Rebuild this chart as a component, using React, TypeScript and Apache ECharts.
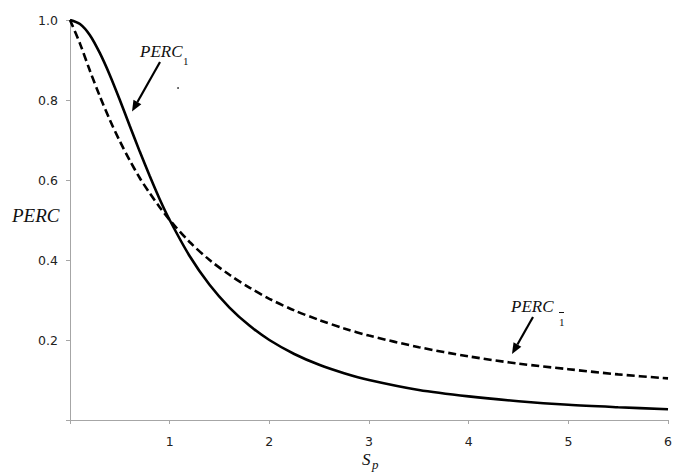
import React, { useEffect, useRef } from "react";
import * as echarts from "echarts";

// S_p values (x axis)
const sp = [0, 0.1, 0.2, 0.3, 0.4, 0.5, 0.6, 0.7, 0.8, 0.9, 1.0, 1.2, 1.4, 1.6, 1.8, 2.0, 2.25, 2.5, 2.75, 3.0, 3.5, 4.0, 4.5, 5.0, 5.5, 6.0];
// PERC_1 (solid curve)
const perc1 = [1.0, 0.99, 0.962, 0.917, 0.862, 0.8, 0.735, 0.671, 0.61, 0.552, 0.5, 0.41, 0.338, 0.281, 0.236, 0.2, 0.165, 0.138, 0.117, 0.1, 0.075, 0.059, 0.047, 0.038, 0.032, 0.027];
// PERC_1bar (dashed curve)
const perc1bar = [1.0, 0.941, 0.873, 0.809, 0.75, 0.697, 0.649, 0.605, 0.567, 0.532, 0.5, 0.445, 0.4, 0.363, 0.331, 0.303, 0.274, 0.25, 0.229, 0.211, 0.182, 0.159, 0.141, 0.127, 0.114, 0.104];

const xTicks = [0, 1, 2, 3, 4, 5, 6];
const yTicks = [0, 0.2, 0.4, 0.6, 0.8, 1.0];

const SERIF = '"Liberation Serif", "Times New Roman", serif';
const SANS = '"DejaVu Sans", sans-serif';

function arrow(x1: number, y1: number, x2: number, y2: number) {
  const ang = Math.atan2(y2 - y1, x2 - x1);
  const L = 11, W = 4.5;
  const bx = x2 - L * Math.cos(ang), by = y2 - L * Math.sin(ang);
  const px = -Math.sin(ang) * W, py = Math.cos(ang) * W;
  return [
    { type: "line", shape: { x1, y1, x2: bx, y2: by }, style: { stroke: "#000", lineWidth: 2.2 } },
    { type: "polygon", shape: { points: [[x2, y2], [bx + px, by + py], [bx - px, by - py]] }, style: { fill: "#000" } },
  ];
}

export default function App() {
  const ref = useRef<HTMLDivElement>(null);
  useEffect(() => {
    if (!ref.current) return;
    const chart = echarts.init(ref.current, null, { renderer: "svg" });
    const txt = (text: string, x: number, y: number, size: number, italic = true, extra: any = {}) => ({
      type: "text",
      style: {
        text,
        x,
        y,
        fill: "#111",
        font: `${italic ? "italic " : ""}${size}px ${SERIF}`,
        textAlign: "left",
        textVerticalAlign: "middle",
        ...extra,
      },
    });
    chart.setOption({
      animation: false,
      backgroundColor: "#ffffff",
      grid: { left: 70, right: 4, top: 20, bottom: 52, containLabel: false },
      xAxis: {
        type: "value",
        min: xTicks[0],
        max: xTicks[xTicks.length - 1],
        interval: 1,
        axisLine: { show: true, lineStyle: { color: "#a6a6a6", width: 1 } },
        axisTick: { show: true, length: 4, lineStyle: { color: "#a6a6a6" } },
        axisLabel: {
          margin: 15,
          color: "#222",
          fontSize: 12.5,
          fontFamily: SANS,
          formatter: (v: number) => (v === 0 ? "" : String(v)),
        },
        splitLine: { show: false },
      },
      yAxis: {
        type: "value",
        min: yTicks[0],
        max: yTicks[yTicks.length - 1],
        interval: 0.2,
        axisLine: { show: true, lineStyle: { color: "#a6a6a6", width: 1 } },
        axisTick: { show: true, length: 4, lineStyle: { color: "#a6a6a6" } },
        axisLabel: {
          margin: 12,
          color: "#222",
          fontSize: 12.5,
          fontFamily: SANS,
          formatter: (v: number) => (v === 0 ? "" : v.toFixed(1)),
        },
        splitLine: { show: false },
      },
      series: [
        {
          type: "line",
          data: sp.map((x, i) => [x, perc1[i]]),
          smooth: 0.3,
          symbol: "none",
          lineStyle: { color: "#000", width: 2.6 },
        },
        {
          type: "line",
          data: sp.map((x, i) => [x, perc1bar[i]]),
          smooth: 0.3,
          symbol: "none",
          lineStyle: { color: "#000", width: 2.6, type: [8, 4] },
        },
      ],
      graphic: [
        // y axis title
        txt("PERC", 12, 215, 19),
        // x axis title
        txt("S", 362, 459, 17),
        txt("p", 372, 464, 13),
        // PERC_1 annotation
        txt("PERC", 140, 51, 17),
        txt("1", 183, 61, 11, false),
        ...arrow(160, 62, 132, 111.5),
        { type: "circle", shape: { cx: 178, cy: 88, r: 0.9 }, style: { fill: "#333" } },
        // PERC_1bar annotation
        txt("PERC", 511, 306.5, 17),
        txt("1", 559, 321.5, 11, false),
        { type: "line", shape: { x1: 559, y1: 312.5, x2: 564, y2: 312.5 }, style: { stroke: "#111", lineWidth: 1 } },
        ...arrow(533, 317, 512, 354),
      ],
    });
    return () => chart.dispose();
  }, []);
  return <div ref={ref} style={{ position: "fixed", left: 0, top: 0, width: 675, height: 472 }} />;
}
